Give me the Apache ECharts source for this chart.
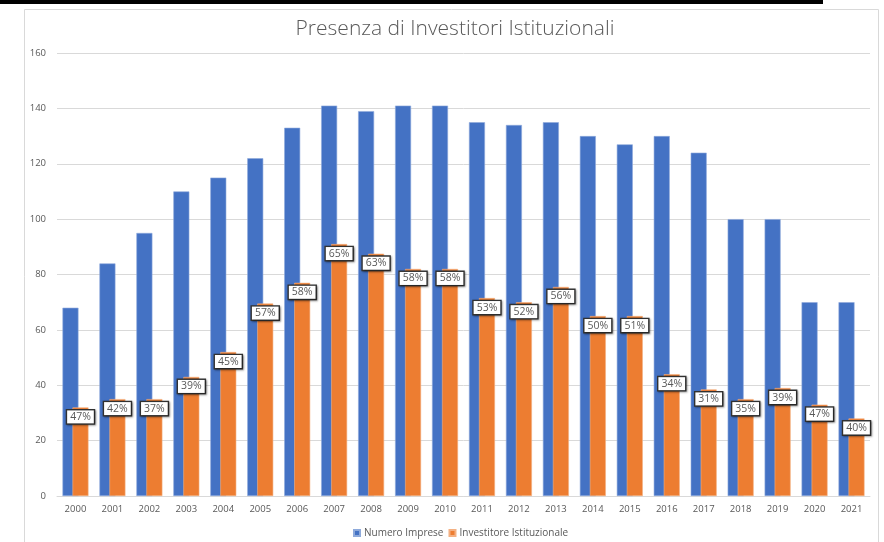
<!DOCTYPE html>
<html><head><meta charset="utf-8">
<script src="https://cdn.jsdelivr.net/npm/echarts@6/dist/echarts.min.js"></script>
<style>html,body{margin:0;padding:0;background:#fff}#c{width:884px;height:542px}</style>
</head><body><div id="c"></div>
<script>
const years = ['2000','2001','2002','2003','2004','2005','2006','2007','2008','2009','2010','2011','2012','2013','2014','2015','2016','2017','2018','2019','2020','2021'];
const numeroImprese = [68,84,95,110,115,122,133,141,139,141,141,135,134,135,130,127,130,124,100,100,70,70];
const investitore = [32,35,35,43,52,69.5,77,91,87.5,82,82,71.5,70,75.5,65,65,44,38.5,35,39,33,28];
const percentLabels = ['47%','42%','37%','39%','45%','57%','58%','65%','63%','58%','58%','53%','52%','56%','50%','51%','34%','31%','35%','39%','47%','40%'];
const yTicks = [0,20,40,60,80,100,120,140,160];

const chart = echarts.init(document.getElementById('c'));
chart.setOption({
  animation: false,
  title: {
    text: 'Presenza di Investitori Istituzionali',
    left: 450, top: 14, textAlign: 'center',
    textStyle: {fontFamily: 'Open Sans', fontSize: 21, fontWeight: 'lighter', color: '#595959'}
  },
  graphic: [
    {type: 'rect', shape: {x: 24.5, y: 9.5, width: 854, height: 540}, style: {fill: 'none', stroke: '#d9d9d9', lineWidth: 1}, z: -1},
    {type: 'rect', shape: {x: 0, y: 0, width: 823, height: 4}, style: {fill: '#000'}}
  ],
  legend: {
    top: 523, left: 348, itemWidth: 6, itemHeight: 6, itemGap: 5,
    icon: 'rect',
    textStyle: {fontFamily: 'Open Sans', fontSize: 10, color: '#595959', padding: [0,0,0,-1]},
    data: ['Numero Imprese', 'Investitore Istituzionale']
  },
  grid: {left: 57, right: 14, top: 53, bottom: 46},
  xAxis: {
    type: 'category', data: years,
    axisLine: {lineStyle: {color: '#d9d9d9'}},
    axisTick: {show: false},
    axisLabel: {color: '#595959', fontFamily: 'Open Sans', fontSize: 9.5, margin: 8}
  },
  yAxis: {
    type: 'value', min: yTicks[0], max: yTicks[yTicks.length-1], interval: 20,
    axisLine: {show: false}, axisTick: {show: false},
    splitLine: {lineStyle: {color: '#d9d9d9'}},
    axisLabel: {color: '#595959', fontFamily: 'Open Sans', fontSize: 9.5, margin: 11}
  },
  series: [
    {
      name: 'Numero Imprese', type: 'bar', data: numeroImprese,
      barWidth: 16, barGap: '-37.5%',
      itemStyle: {color: '#4472C4', borderColor: '#8eaadb', borderWidth: 0.6}
    },
    {
      name: 'Investitore Istituzionale', type: 'bar', data: investitore,
      barWidth: 16,
      itemStyle: {color: '#ED7D31', borderColor: '#f4b183', borderWidth: 0.6},
      label: {
        show: true, position: 'insideTop', distance: 3,
        formatter: p => percentLabels[p.dataIndex],
        color: '#595959', fontFamily: 'Open Sans', fontSize: 10.5,
        backgroundColor: '#fff', borderColor: '#333', borderWidth: 1.4,
        padding: [1, 3, 1, 3],
        shadowColor: 'rgba(0,0,0,0.35)', shadowBlur: 2, shadowOffsetX: 1, shadowOffsetY: 1
      }
    }
  ]
});
</script></body></html>
